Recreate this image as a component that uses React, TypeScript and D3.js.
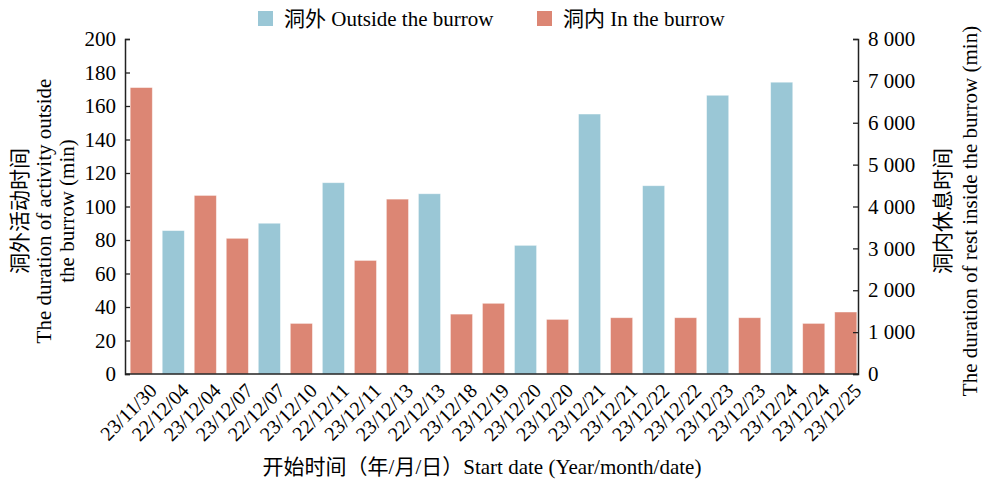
import React, { useEffect, useRef } from "react";
import * as d3 from "d3";

const dates = [
  "23/11/30", "22/12/04", "23/12/04", "23/12/07", "22/12/07", "23/12/10",
  "22/12/11", "23/12/11", "23/12/13", "22/12/13", "23/12/18", "23/12/19",
  "23/12/20", "23/12/20", "23/12/21", "23/12/21", "23/12/22", "23/12/22",
  "23/12/23", "23/12/23", "23/12/24", "23/12/24", "23/12/25",
];
// "out" = outside the burrow (left axis, min), "in" = inside (right axis, min)
const kinds = [
  "in", "out", "in", "in", "out", "in",
  "out", "in", "in", "out", "in", "in",
  "out", "in", "out", "in", "out", "in",
  "out", "in", "out", "in", "in",
];
const values = [
  6840, 85.6, 4264, 3240, 90, 1208,
  114.2, 2712, 4176, 107.6, 1430, 1688,
  76.8, 1304, 155.2, 1344, 112.4, 1344,
  166.4, 1344, 174.2, 1208, 1480,
];
const leftTicks = [0, 20, 40, 60, 80, 100, 120, 140, 160, 180, 200];
const rightTicks = [0, 1000, 2000, 3000, 4000, 5000, 6000, 7000, 8000];

const BLUE = "#9AC7D6";
const RED = "#DC8674";
const FONT = "'Liberation Serif', 'Times New Roman', 'Noto Sans CJK SC', serif";

const App = () => {
  const ref = useRef<SVGSVGElement>(null);

  useEffect(() => {
    const svg = d3.select(ref.current);
    svg.selectAll("*").remove();

    const W = 982, H = 480;
    const left = 125, right = 858, top = 39, bottom = 374;

    const x = d3.scaleBand().domain(d3.range(dates.length).map(String))
      .range([127, 860]).paddingInner(0.31).paddingOuter(0.1);
    const yL = d3.scaleLinear().domain([0, 200]).range([bottom, top]);
    const yR = d3.scaleLinear().domain([0, 8000]).range([bottom, top]);

    const g = svg.append("g").style("font-family", FONT);

    // bars
    g.append("g").selectAll("rect")
      .data(values.map((v, i) => ({ v, i, k: kinds[i] })))
      .join("rect")
      .attr("x", (d) => x(String(d.i))!)
      .attr("width", x.bandwidth())
      .attr("y", (d) => (d.k === "out" ? yL(d.v) : yR(d.v)))
      .attr("height", (d) => bottom - (d.k === "out" ? yL(d.v) : yR(d.v)))
      .attr("fill", (d) => (d.k === "out" ? BLUE : RED))
      .attr("stroke", "#fff")
      .attr("stroke-opacity", 0.5)
      .attr("stroke-width", 0.8);

    // left axis
    const la = g.append("g").attr("transform", `translate(${left},0)`)
      .call(d3.axisLeft(yL).tickValues(leftTicks).tickSize(-5).tickPadding(9));
    la.select(".domain").attr("stroke", "#222").attr("stroke-width", 1.5);
    la.selectAll(".tick line").attr("stroke", "#222").attr("stroke-width", 1.3);
    la.selectAll("text").style("font-size", "21px").attr("fill", "#000").style("font-family", FONT);

    // right axis
    const fmt = (v: number) => (v >= 1000 ? `${Math.floor(v / 1000)} ${String(v % 1000).padStart(3, "0")}` : String(v));
    const ra = g.append("g").attr("transform", `translate(${right},0)`)
      .call(d3.axisRight(yR).tickValues(rightTicks).tickSize(-5).tickPadding(10).tickFormat((d) => fmt(+d)));
    ra.select(".domain").attr("stroke", "#222").attr("stroke-width", 1.5);
    ra.selectAll(".tick line").attr("stroke", "#222").attr("stroke-width", 1.3);
    ra.selectAll("text").style("font-size", "21px").attr("fill", "#000").style("font-family", FONT);

    // bottom axis line + labels
    g.append("line").attr("x1", left).attr("x2", right).attr("y1", bottom).attr("y2", bottom)
      .attr("stroke", "#222").attr("stroke-width", 1.5);
    g.append("g").selectAll("text").data(dates).join("text")
      .attr("transform", (_d, i) => {
        const cx = x(String(i))! + x.bandwidth() / 2 + 7;
        return `translate(${cx},${bottom + 8}) rotate(-45)`;
      })
      .attr("text-anchor", "end")
      .attr("dy", "0.7em")
      .style("font-size", "20px")
      .text((d) => d);

    // axis titles
    g.append("text").attr("x", 482).attr("y", 474).attr("text-anchor", "middle")
      .style("font-size", "21px").text("开始时间（年/月/日）Start date (Year/month/date)");

    const lt = g.append("text").attr("transform", "translate(0,211) rotate(-90)")
      .attr("text-anchor", "middle").style("font-size", "21px");
    lt.append("tspan").attr("x", 0).attr("y", 27).text("洞外活动时间");
    lt.append("tspan").attr("x", 0).attr("y", 51).text("The duration of activity outside");
    lt.append("tspan").attr("x", 0).attr("y", 74).text("the burrow (min)");

    const rt = g.append("text").attr("transform", "translate(0,211) rotate(-90)")
      .attr("text-anchor", "middle").style("font-size", "21px");
    rt.append("tspan").attr("x", 0).attr("y", 950).text("洞内休息时间");
    rt.append("tspan").attr("x", 0).attr("y", 977).text("The duration of rest inside the burrow (min)");

    // legend
    const legend = [
      { label: "洞外 Outside the burrow", color: BLUE, x: 258 },
      { label: "洞内 In the burrow", color: RED, x: 537 },
    ];
    const lg = g.append("g").selectAll("g").data(legend).join("g")
      .attr("transform", (d) => `translate(${d.x},11)`);
    lg.append("rect").attr("width", 15).attr("height", 15).attr("fill", (d) => d.color);
    lg.append("text").attr("x", 26).attr("y", 15).style("font-size", "21px").text((d) => d.label);

    svg.attr("width", W).attr("height", H);
  }, []);

  return (
    <svg ref={ref} width={982} height={480}
      style={{ position: "absolute", left: 0, top: 0, background: "#fff" }} />
  );
};

export default App;
